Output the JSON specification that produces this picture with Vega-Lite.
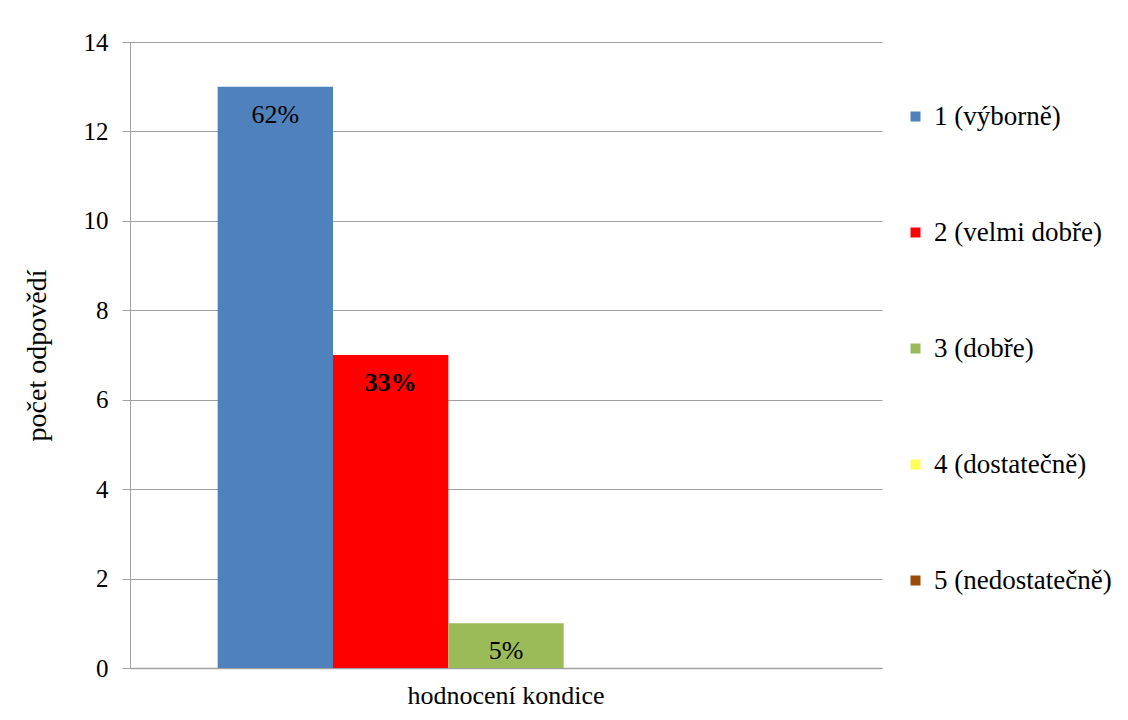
{
  "$schema": "https://vega.github.io/schema/vega-lite/v6.json",
  "width": 752,
  "height": 626,
  "autosize": {"type": "none"},
  "padding": {"left": 130, "top": 42, "right": 246, "bottom": 52},
  "background": "white",
  "config": {
    "font": "Liberation Serif",
    "view": {"stroke": null},
    "axis": {"labelFont": "Liberation Serif", "titleFont": "Liberation Serif", "labelColor": "black", "titleColor": "black"},
    "legend": {"labelFont": "Liberation Serif"}
  },
  "data": {
    "values": [
      {"skupina": "hodnocení kondice", "hodnocení": "1 (výborně)", "počet": 13, "podíl": "62%"},
      {"skupina": "hodnocení kondice", "hodnocení": "2 (velmi dobře)", "počet": 7, "podíl": "33%"},
      {"skupina": "hodnocení kondice", "hodnocení": "3 (dobře)", "počet": 1, "podíl": "5%"},
      {"skupina": "hodnocení kondice", "hodnocení": "4 (dostatečně)", "počet": 0, "podíl": ""},
      {"skupina": "hodnocení kondice", "hodnocení": "5 (nedostatečně)", "počet": 0, "podíl": ""}
    ]
  },
  "encoding": {
    "x": {
      "field": "skupina", "type": "nominal",
      "scale": {"paddingOuter": 0.152, "paddingInner": 0},
      "axis": {"title": null, "labelAngle": 0, "labelFontSize": 26, "labelPadding": 14, "ticks": false, "domainColor": "#a0a0a0", "domainWidth": 1.5, "labelLimit": 600}
    },
    "xOffset": {
      "field": "hodnocení", "type": "nominal",
      "scale": {"paddingInner": 0, "paddingOuter": 0}
    },
    "y": {
      "field": "počet", "type": "quantitative",
      "scale": {"domain": [0, 14]},
      "axis": {"values": [0, 2, 4, 6, 8, 10, 12, 14], "title": "počet odpovědí", "titleFontSize": 28, "titleFontWeight": "normal", "titlePadding": 32, "labelFontSize": 25, "labelPadding": 14, "tickSize": 8, "tickColor": "#a0a0a0", "domainColor": "#a0a0a0", "gridColor": "#a0a0a0", "grid": true, "gridWidth": 1.2}
    }
  },
  "layer": [
    {
      "mark": {"type": "bar"},
      "encoding": {
        "color": {
          "field": "hodnocení", "type": "nominal",
          "scale": {"domain": ["1 (výborně)", "2 (velmi dobře)", "3 (dobře)", "4 (dostatečně)", "5 (nedostatečně)"], "range": ["#4F81BD", "#FF0000", "#9BBB59", "#FFFF55", "#9C4A0A"]},
          "legend": {"title": null, "orient": "none", "legendX": 772, "legendY": 61, "symbolType": "square", "symbolSize": 100, "symbolStrokeWidth": 0, "labelFontSize": 27, "labelColor": "black", "rowPadding": 88, "labelOffset": 5, "labelLimit": 400}
        }
      }
    },
    {
      "transform": [{"filter": "datum['počet'] > 0 && datum['hodnocení'] != '2 (velmi dobře)'"}],
      "mark": {"type": "text", "baseline": "middle", "dy": 28, "fontSize": 26, "color": "black"},
      "encoding": {"text": {"field": "podíl"}}
    },
    {
      "transform": [{"filter": "datum['hodnocení'] == '2 (velmi dobře)'"}],
      "mark": {"type": "text", "baseline": "middle", "dy": 28, "fontSize": 26, "fontWeight": "bold", "color": "black"},
      "encoding": {"text": {"field": "podíl"}}
    }
  ]
}
